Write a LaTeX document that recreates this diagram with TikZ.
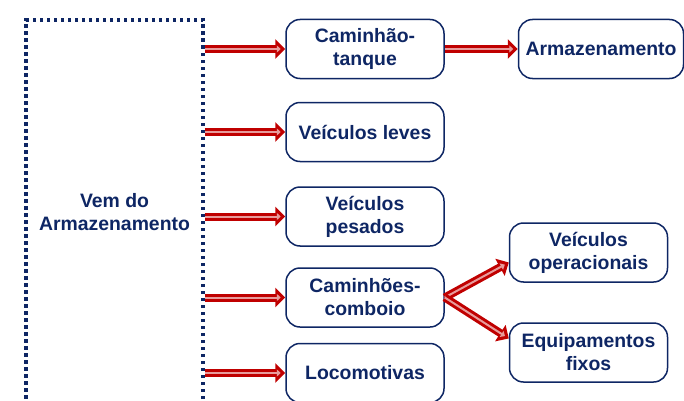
\documentclass[tikz,border=0pt]{standalone}
\usepackage{fontspec}
\setmainfont{Liberation Sans}
\usepackage{tikz}
\usetikzlibrary{arrows.meta,shapes,positioning}
\definecolor{navy}{RGB}{14,38,100}
\definecolor{pipered}{RGB}{192,0,0}
\definecolor{pipepink}{RGB}{232,156,156}
\tikzstyle{block} = [draw=navy, line width=1.5pt, rounded corners=14pt, fill=white,
    text=navy, font=\fontsize{19.4}{23}\selectfont\bfseries, align=center,
    minimum width=158pt, minimum height=59pt]
\tikzstyle{source} = [draw=navy, line width=3.2pt, dash pattern=on 3.5pt off 3.5pt,
    text=navy, font=\fontsize{19.4}{23}\selectfont\bfseries, align=center,
    minimum width=177pt, minimum height=384pt]
\tikzstyle{pipe} = [draw=pipered, line width=8pt, -{Triangle[length=10pt,width=19pt]},
    postaction={draw=pipepink, line width=2pt, shorten >=4.5pt,
    -{Triangle[length=4pt,width=7pt]}}]

\begin{document}
\begin{tikzpicture}[node distance = 83pt, auto]
  \useasboundingbox (0,0) rectangle (684pt,400pt);
  \node [source] at (114.5pt,188pt) (vem) {Vem do\\Armazenamento};
  \node [block] at (365pt,351pt) (tanque) {Caminhão-\\tanque};
  \node [block, below of=tanque, node distance = 83pt] (leves) {Veículos leves};
  \node [block, below of=leves, node distance = 84.5pt] (pesados) {Veículos\\pesados};
  \node [block, below of=pesados, node distance = 81pt] (comboio) {Caminhões-\\comboio};
  \node [block, below of=comboio, node distance = 75.5pt] (loco) {Locomotivas};
  \node [block, right of=tanque, node distance = 236pt, minimum width=165pt] (armaz) {Armazenamento};
  \node [block] at (588.5pt,147.5pt) (oper) {Veículos\\operacionais};
  \node [block] at (588.5pt,47.5pt) (fixos) {Equipamentos\\fixos};
  \foreach \n in {tanque,leves,pesados,comboio,loco}
    \draw [pipe] (vem.east |- \n.west) -- (\n.west);
  \draw [pipe] (tanque.east) -- (armaz.west);
  \draw [pipe] (comboio.east) -- ([yshift=-10pt]oper.west);
  \draw [pipe] (comboio.east) -- ([yshift=14pt]fixos.west);
\end{tikzpicture}
\end{document}
